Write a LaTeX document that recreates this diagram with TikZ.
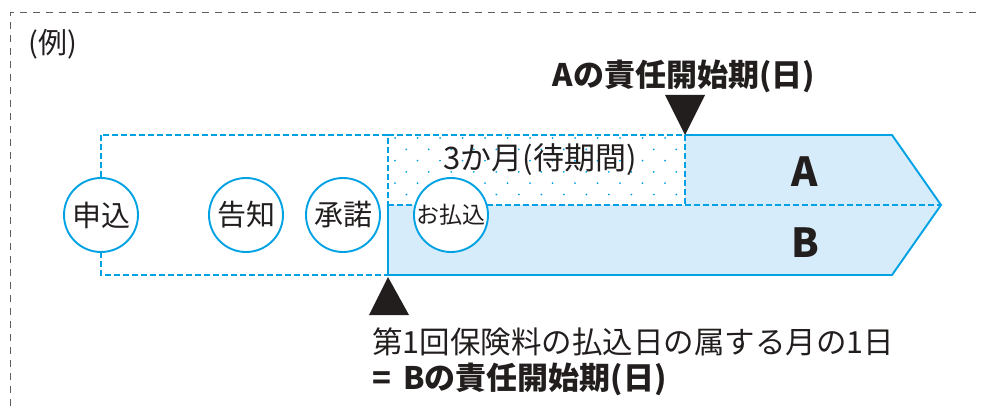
\documentclass[tikz,border=0pt]{standalone}
\usepackage{fontspec}
\setmainfont{Noto Sans CJK JP}
\usepackage{tikz}
\definecolor{exblue}{RGB}{0,162,228}
\definecolor{exfill}{RGB}{214,236,250}
\definecolor{exgray}{RGB}{95,95,95}
\definecolor{exblack}{RGB}{35,30,30}

\begin{document}
\begin{tikzpicture}[x=1pt,y=-1pt,
    stepcircle/.style={circle,draw=exblue,line width=1.9pt,fill=white,%
        minimum size=74pt,inner sep=0pt,text=exblack,%
        font=\fontsize{29}{29}\selectfont},
    bluesolid/.style={exblue,line width=1.9pt},
    bluedash/.style={exblue,line width=1.9pt,dash pattern=on 6pt off 3pt},
    textlabel/.style={inner sep=0pt,text=exblack}]
    \useasboundingbox (0,0) rectangle (981,406);

    % Outer frame
    \draw[exgray,line width=1pt,dash pattern=on 7pt off 6pt] (10,406) -- (10,13) -- (981,13);
    \node[textlabel,anchor=west,font=\fontsize{29}{29}\selectfont] (example) at (28,44) {(例)};

    % Corner points of the periods
    \coordinate (apply top) at (101,135);
    \coordinate (apply bottom) at (388,275);
    \coordinate (wait top) at (388,135);
    \coordinate (wait mid) at (388,205);
    \coordinate (a start) at (685,135);
    \coordinate (a mid) at (685,205);
    \coordinate (a end) at (892,135);
    \coordinate (tip) at (941,205);
    \coordinate (b end) at (892,275);

    % Fill the coverage
    \fill[exfill] (a start) -- (a end) -- (tip) -- (b end) -- (apply bottom)
        -- (wait mid) -- (a mid) -- cycle;

    % Dots of the waiting period
    \foreach \r [evaluate=\r as \yy using {138+11.3*\r},
                 evaluate=\r as \xo using {395+11.25*mod(\r,2)}] in {0,...,5}{
        \foreach \c in {0,...,12}{
            \fill[exblue] (\xo+22.5*\c,\yy) circle (1pt);
        }
    }

    % Dashed borders
    \draw[bluedash] (apply top) rectangle (apply bottom);
    \draw[bluedash] (wait top) -- (a start) -- (a mid);
    \draw[bluedash] (wait mid) -- (tip);

    % Solid border
    \draw[bluesolid,line join=miter] (a start) -- (a end) -- (tip) -- (b end)
        -- (apply bottom) -- (wait mid);

    % Steps
    \node[stepcircle] (apply) at (101,215) {申込};
    \node[stepcircle] (notice) at (246,215) {告知};
    \node[stepcircle] (accept) at (343,215) {承諾};
    \node[stepcircle,font=\fontsize{23}{23}\selectfont] (pay) at (451,215) {お払込};

    % Labels
    \node[textlabel,font=\fontsize{31}{31}\selectfont] (wait) at (540,160) {3か月(待期間)};
    \node[textlabel,font=\fontsize{40}{40}\bfseries] (cover a) at (805,172) {A};
    \node[textlabel,font=\fontsize{40}{40}\bfseries] (cover b) at (805,243) {B};
    \node[textlabel,font=\fontsize{31}{31}\bfseries] (start a) at (684,76) {Aの責任開始期(日)};
    \node[textlabel,anchor=west,font=\fontsize{30.5}{30.5}\selectfont] (start b) at (372,342)
        {第1回保険料の払込日の属する月の1日};
    \node[textlabel,anchor=west,font=\fontsize{31}{31}\bfseries] (start b2) at (372,379)
        {=\, Bの責任開始期(日)};

    % Markers
    \fill[exblack] (665,95) -- (705,95) -- (a start) -- cycle;
    \fill[exblack] (369,315) -- (409,315) -- (388,277) -- cycle;
\end{tikzpicture}
\end{document}
